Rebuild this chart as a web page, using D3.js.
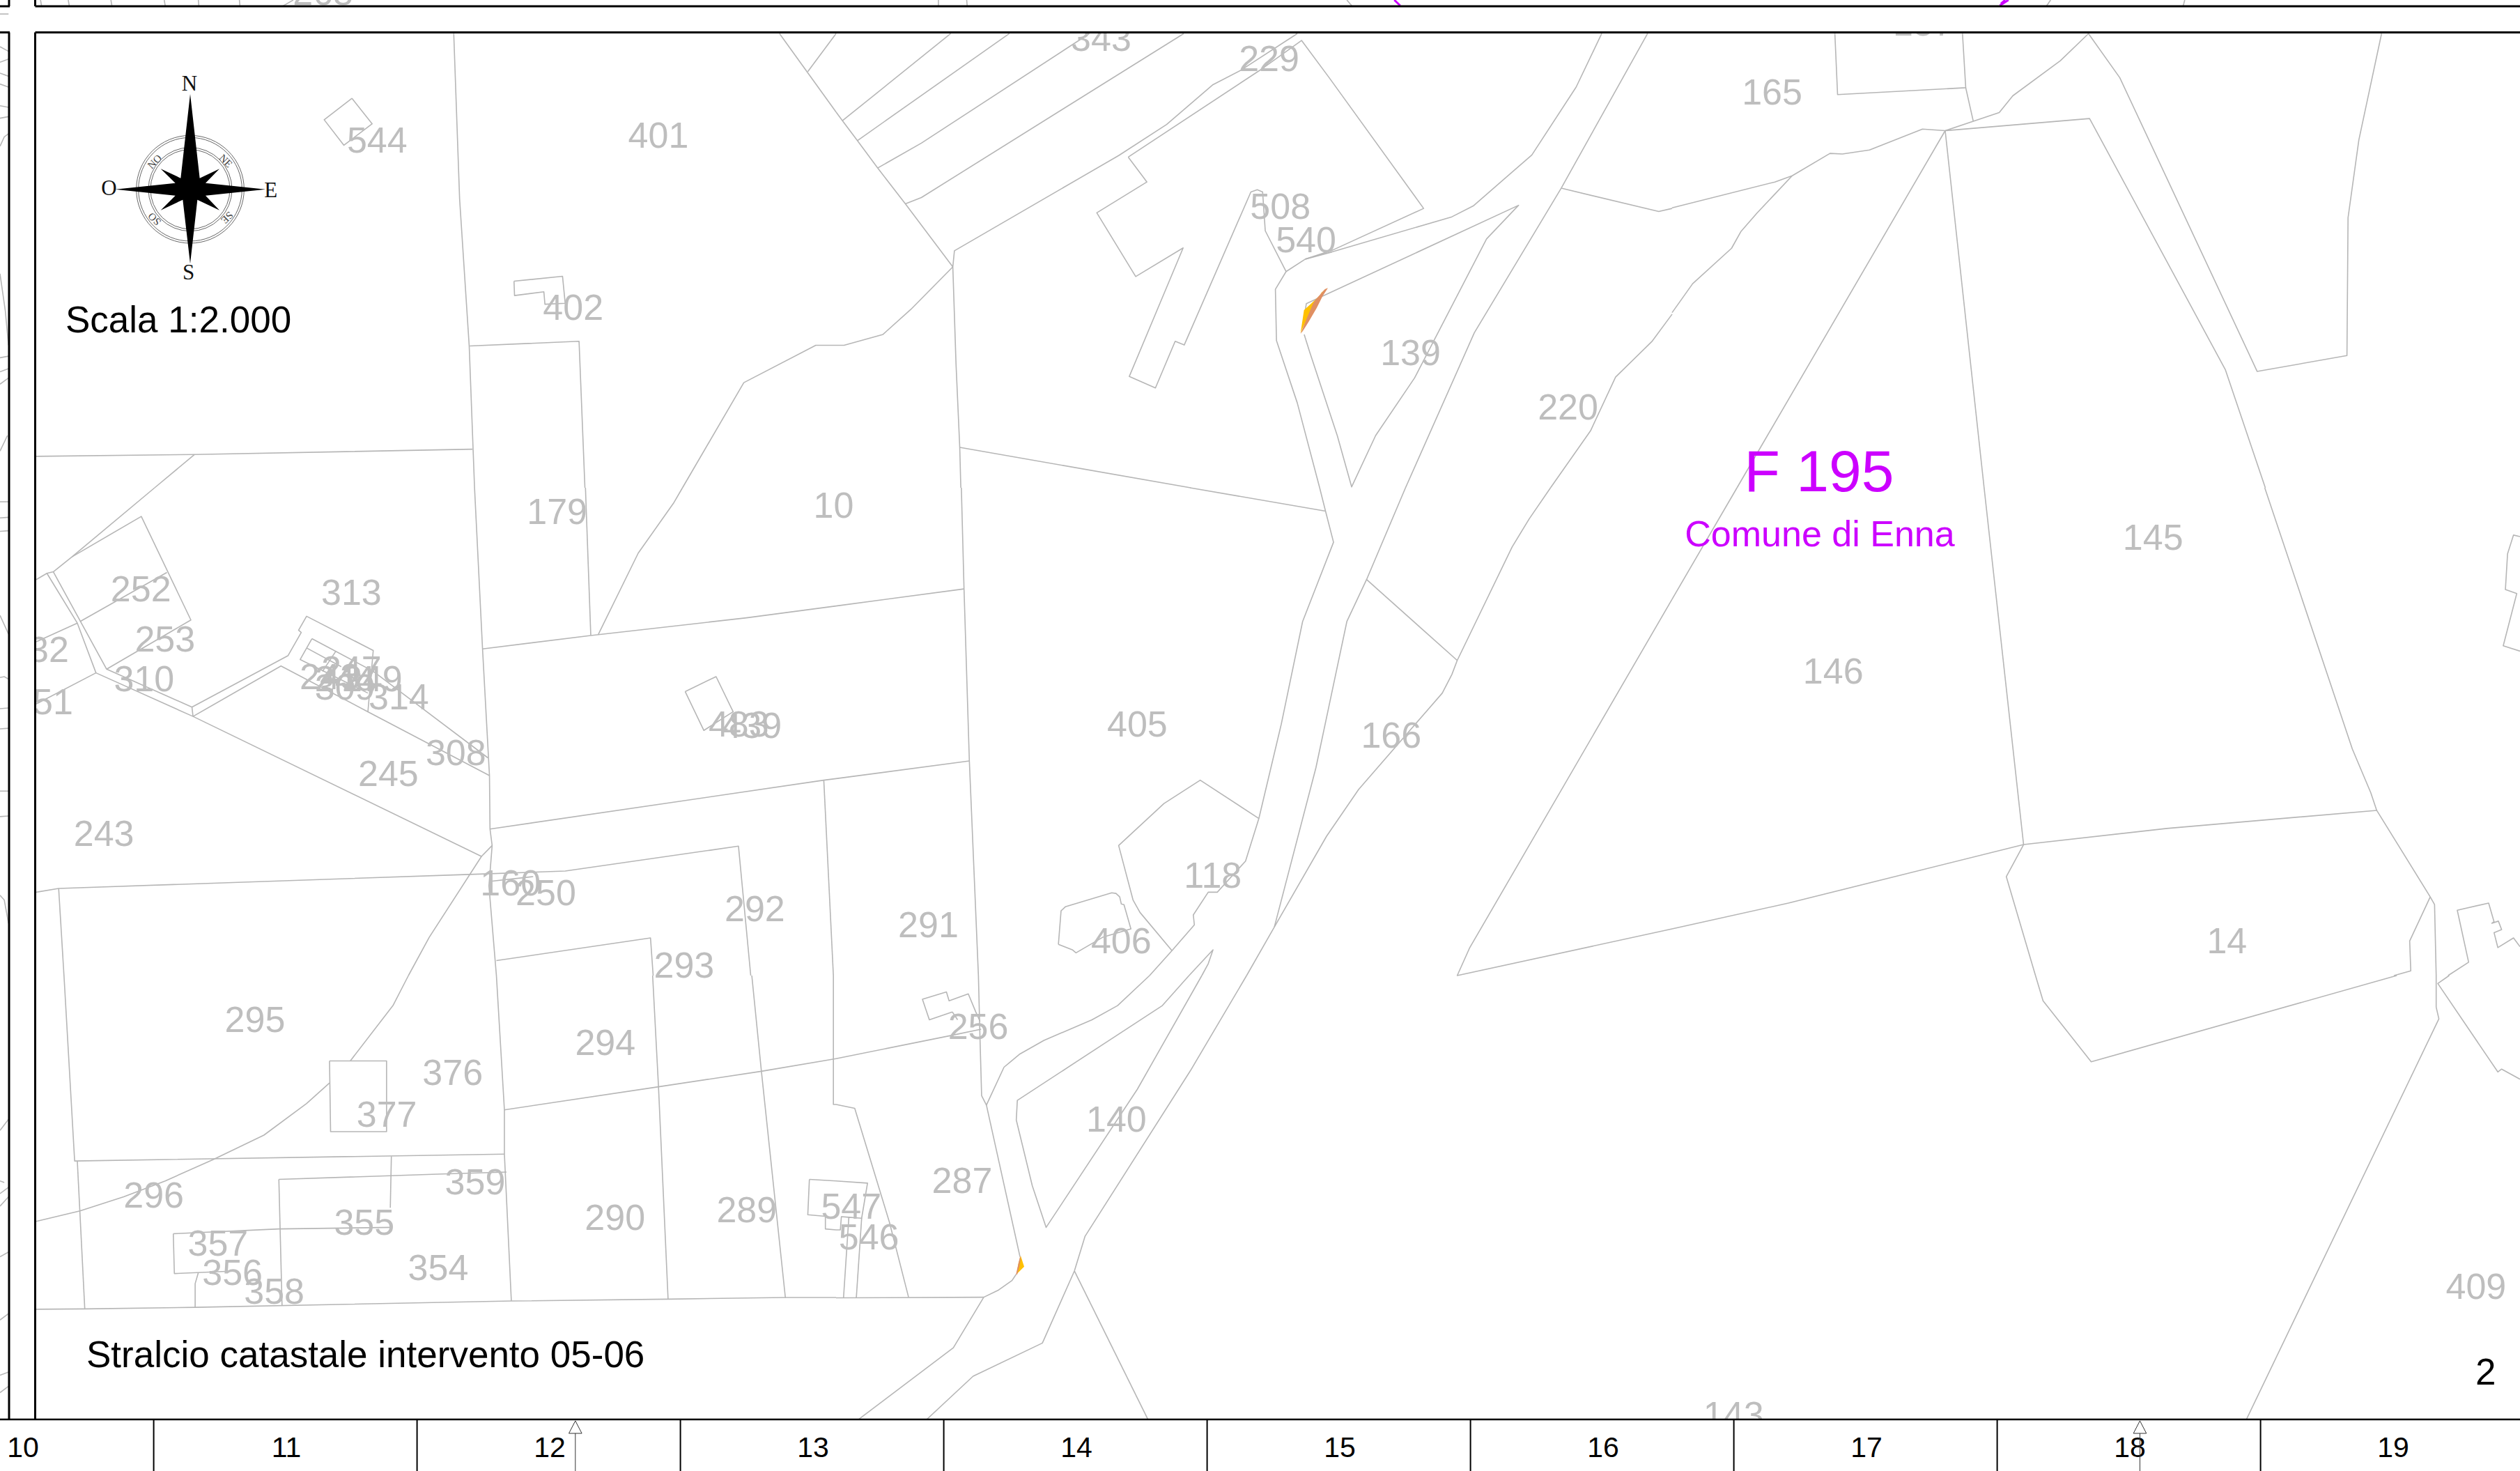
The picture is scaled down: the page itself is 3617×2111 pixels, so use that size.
<!DOCTYPE html>
<html>
<head>
<meta charset="utf-8">
<script src="https://cdn.jsdelivr.net/npm/d3@7"></script>
<style>
  html, body { margin: 0; background: #fff; }
  svg { display: block; font-family: "Liberation Sans", Arial, sans-serif; }
</style>
</head>
<body>
<svg id="map"></svg>
<script>
// boundaries read per sheet, flat x,y lists, each sheet 0..1568 both ways
const sheetA = [
  [851,108, 862,640, 880,1112, 890,1568],
  [881,1112, 1086,1097, 1097,1568],
  [68,1467, 365,1461, 886,1444],
  [365,1461, 290,1568],
  [660,316, 698,398, 645,467, 608,385, 660,316],
  [964,904, 1055,888, 1060,975, 1022,978, 1020,938, 965,950, 964,904],
  [1568,1110, 1530,1110, 1395,1230, 1280,1568],
  [1462,108, 1568,360],
  [1515,230, 1568,108]
];
const sheetB = [
  [890,0, 905,518, 918,925, 919,1097, 923,1150, 917,1280, 931,1568],
  [1098,0, 1108,474],
  [1280,0, 1263,50, 1197,210, 1122,472],
  [905,518, 1108,475, 1400,418, 1568,380],
  [919,1097, 1545,940, 1568,935],
  [290,0, 135,222, 100,270, 88,275, 145,435, 180,595, 362,735, 903,1185, 923,1150],
  [100,270, 200,583, 360,705, 362,735],
  [135,222, 265,92, 358,425, 200,583],
  [68,295, 88,275],
  [145,435, 68,495],
  [150,430, 313,272],
  [180,595, 68,695],
  [360,705, 540,540, 565,465, 560,458, 575,413, 700,523, 690,720],
  [362,735, 527,573, 690,720, 918,925],
  [585,485, 700,590, 915,868],
  [585,485, 563,552, 690,660],
  [575,515, 640,575],
  [630,525, 605,590],
  [1285,655, 1343,607, 1375,720, 1320,780, 1285,655],
  [68,1300, 110,1288, 880,1243, 1060,1232, 1385,1152, 1408,1568],
  [110,1288, 120,1568],
  [903,1185, 805,1445, 766,1568],
  [920,1265, 1000,1250],
  [931,1520, 1220,1447, 1225,1568],
  [1545,940, 1563,1568]
];
const sheetC = [
  [120,0, 140,587, 946,565],
  [766,0, 737,95, 657,270],
  [618,270, 725,270, 725,494, 620,494, 618,270],
  [618,340, 575,405, 495,505, 400,582, 310,650, 232,700, 150,745, 68,778],
  [931,0, 946,425, 946,565, 959,1030],
  [946,425, 1235,352, 1428,303, 1568,263],
  [1224,0, 1235,352, 1253,1025],
  [1410,0, 1428,303, 1473,1020],
  [145,587, 159,1055],
  [68,1056, 159,1055, 366,1050, 959,1030, 1253,1024, 1473,1019, 1568,1019],
  [734,572, 732,735],
  [523,645, 830,628, 950,622],
  [523,645, 529,1045],
  [325,817, 523,802, 735,797],
  [325,817, 327,943, 440,935],
  [366,1050, 366,975, 372,940],
  [1563,0, 1563,408, 1568,408],
  [1518,645, 1568,650],
  [1518,645, 1515,757, 1548,762, 1548,802, 1568,805]
];
const sheetD = [
  [0,360, 12,388, 40,452, 78,540, 130,655, 219,858],
  [12,388, 215,108],
  [40,452, 325,108],
  [78,540, 160,460, 475,108],
  [130,655, 160,635, 652,108],
  [219,858, 222,806, 530,500, 620,400, 707,272, 760,225, 865,108],
  [548,505, 800,220, 873,130, 925,250, 1102,670, 930,805, 880,833],
  [548,505, 583,585, 489,684, 562,889, 651,797, 550,1210, 599,1247, 636,1097, 653,1109, 778,617, 790,610, 800,617, 805,742, 844,873, 880,833, 930,810, 1155,697, 1195,662, 1305,498, 1388,280, 1436,108],
  [844,873, 824,930, 826,1095, 865,1295, 907,1568],
  [878,1075, 888,1130, 940,1400, 967,1565, 1012,1400, 1085,1215, 1220,768, 1280,660, 882,976, 878,1020],
  [1522,108, 1360,605, 1197,1070, 1068,1568],
  [1360,605, 1543,680, 1568,670],
  [1568,1010, 1530,1098, 1462,1212, 1415,1385, 1340,1568],
  [219,858, 140,995, 88,1075, 15,1110, 0,1110],
  [219,858, 225,1170, 232,1438, 234,1568],
  [232,1438, 665,1568]
];
const sheetE = [
  [664,0, 918,75],
  [907,0, 918,75, 933,175, 875,430, 835,760, 793,1063, 768,1200, 715,1300, 698,1300, 670,1373, 672,1405, 630,1488, 588,1568],
  [1068,0, 995,295, 958,430, 900,900, 822,1412],
  [1340,0, 1300,100, 1268,190, 1165,555, 1155,600, 1137,660, 980,970, 920,1120, 822,1412, 770,1568],
  [995,295, 1165,555],
  [1568,358, 1188,1480, 1165,1568, 1568,1418],
  [235,0, 240,325, 250,878, 267,1568],
  [0,380, 240,325],
  [0,935, 250,878],
  [793,1063, 683,940, 615,1015, 530,1150, 557,1325, 570,1365, 630,1488],
  [417,1468, 422,1360, 430,1347, 517,1302, 525,1304, 532,1315, 535,1338, 540,1340, 553,1418, 500,1445, 450,1495, 443,1485, 417,1468],
  [686,1568, 698,1530, 707,1485, 662,1568]
];
const sheetF = [
  [588,0, 528,95, 480,140, 390,205, 345,248, 315,290, 282,410, 273,380, 270,200, 267,0],
  [282,410, 345,890],
  [662,0, 612,95, 340,395, 338,457, 368,665, 394,797, 565,360, 686,0],
  [770,0, 665,300, 467,825, 447,935, 387,1163, 257,1268, 170,1405],
  [447,935, 585,1405],
  [338,945, 330,965, 305,995, 277,1018, 220,1178, 42,1405],
  [0,1020, 277,1018],
  [0,408, 35,420, 100,780, 136,1018],
  [218,115, 175,140, 162,75, 207,52, 212,80, 248,58, 262,115, 270,145],
  [218,115, 228,140],
  [0,263, 215,190, 272,170],
  [0,650, 59,657, 48,768, 24,765, 14,1020],
  [48,768, 38,1020],
  [24,765, 10,763, 8,805, 0,805]
];
const sheetG = [
  [0,668, 190,585, 222,565, 292,493, 315,495, 365,482, 463,415, 505,420, 605,362, 630,308, 718,195, 770,108, 828,250, 1082,1194, 1248,1143, 1250,700, 1270,450, 1312,108],
  [222,565, 157,685, 127,745, 110,798, 38,912, 0,1005],
  [505,420, 120,1568],
  [505,420, 772,381, 1023,1188, 1097,1568],
  [505,420, 577,1568],
  [301,108, 306,304, 543,282, 537,108],
  [543,282, 557,390]
];
const sheetH = [
  [120,0, 0,358],
  [577,0, 650,1147],
  [1096,0, 1258,840, 1292,980, 1303,1037, 1402,1315, 1410,1340, 1413,1568],
  [0,1418, 215,1335, 650,1147, 915,1095, 1303,1037],
  [650,1147, 618,1250, 672,1568],
  [1402,1315, 1364,1457, 1366,1553, 1335,1568],
  [1568,525, 1537,508, 1562,340, 1541,327, 1545,212, 1556,152, 1568,157],
  [1435,1568, 1473,1525, 1452,1358, 1510,1335, 1520,1395, 1516,1400, 1528,1393, 1534,1420, 1520,1430, 1527,1478, 1556,1447, 1568,1475]
];
const sheetI = [
  [672,0, 686,80, 775,273, 1340,0],
  [1413,0, 1413,100, 1418,137, 1062,1405],
  [1437,0, 1416,25, 1527,305, 1534,296, 1568,328]
];

// bits of the neighbouring sheets that show at the edges (same sheet units)
const stubsA = [
  [0,45, 16,45],[0,150, 16,165],[0,200, 16,190],[0,235, 16,245],[0,270, 16,280],[0,340, 16,345],[0,380, 16,375],
  [0,470, 8,440, 16,430],[0,880, 10,1000, 16,1110],[0,1150, 16,1145],[0,1195, 16,1185],[0,1235, 16,1215],[0,1450, 14,1400],
  [78,20, 76,0],[130,20, 128,0],[210,20, 208,0],[310,20, 308,0],[373,20, 372,0],[450,20, 449,0],[530,20, 550,0]
];
const stubsB = [
  [0,45, 16,45],[0,97, 16,95],[0,140, 16,138],[0,410, 16,470],[0,610, 8,607, 16,615],[0,710, 16,708],[0,775, 16,773],
  [0,975, 16,975],[0,1057, 16,1055],[0,1310, 8,1325, 16,1400]
];
const stubsC = [
  [16,455, 0,490],[0,650, 8,655],[0,690, 16,670],[0,730, 16,700],[0,890, 16,875],[0,1090, 16,1070],[0,1265, 16,1255],[0,1320, 16,1300]
];
const stubsD = [[192,0, 192,20],[245,0, 246,20],[958,0, 968,20]];
const stubsG = [[700,0, 692,20],[948,0, 945,20]];
const purpleStubs = [[1047,0, 1058,18]];
const purpleStubsG = [[622,0, 606,18],[616,0, 608,12]];

// parcel numbers, [number, x, y] on the shrunk sheet
const parcels = [
  ["229",789,36],["343",684.5,23.4],["165",1102,57],["157",1196,14],["544",234,87],["401",409,84],["402",356,191],
  ["508",796,128],["540",812,149],["139",877,219],["220",975,253],["179",346,318],["10",518,314],["252",87,366],
  ["313",218,368],["253",102,397],["232",23.4,403.6],["310",89,422],["251",26,436],["247",218,416],["243",204.6,420.6],
  ["244",214,422],["309",214,427],["249",231,422],["314",247.5,433],["405",707,450],["483",459,450],["439",467,451],
  ["166",865,457],["308",283,468],["245",241,481],["243",64,518],["118",754,544],["160",317,549],["250",339,555],
  ["292",469,565],["291",577,575],["406",697,585],["14",1385,585],["293",425,600],["295",158,634],["256",608,638],
  ["294",376,648],["376",281,667],["377",240,693],["140",694,696],["359",295,735],["287",598,734],["296",95,743],
  ["547",529,750],["289",464,752],["290",382,757],["355",226,760],["546",540,769],["357",135,773],["354",272,788],
  ["356",144,791],["409",1540,800],["358",170,803],["143",1078,879.6],["145",1339,334],["146",1140,417]
];
const upperParcels = [["268",201,-5]];

const rulerColumns = ["10","11","12","13","14","15","16","17","18","19"];
const rulerArrows = [358, 1331.5];

const starOutline = [
  [519,165],[560,527],[645,487],[585,548],[843,575],[585,602],[645,665],[550,620],
  [519,895],[487,620],[392,665],[455,602],[197,575],[455,548],[392,487],[478,527]
];
const ringRadii = [232, 223, 180, 171];
const compassMain = [["N",516,118],["O",169,570],["E",866,578],["S",512,933]];
const compassSmall = [["NO",366,456,-45],["NE",672,453,45],["SE",678,697,135],["SO",365,703,-135]];

const sliverNorthYellow = [[140,295],[155,195],[210,145],[255,100],[230,120],[190,190],[150,270]];
const sliverNorthSalmon = [[140,297],[165,235],[195,165],[205,150],[245,105],[258,100],[235,135],[210,185],[175,245],[150,285]];
const sliverSouthYellow = [[135,97],[150,143],[118,175],[125,130]];
const sliverSouthSalmon = [[133,97],[115,175],[120,178],[130,140],[135,110]];

const WIDTH = 3617, HEIGHT = 2111;
const FRAME_LEFT = 50.5, FRAME_TOP = 46.5, FRAME_BOTTOM = 2037;
const GREY = "#bebebe", LINE_GREY = "#b6b6b6", PURPLE = "#cc00ff";

const svg = d3.select("#map").attr("width", WIDTH).attr("height", HEIGHT).attr("viewBox", `0 0 ${WIDTH} ${HEIGHT}`);

const defs = svg.append("defs");
defs.append("clipPath").attr("id", "mainClip").append("rect")
  .attr("x", FRAME_LEFT).attr("y", FRAME_TOP).attr("width", WIDTH - FRAME_LEFT).attr("height", FRAME_BOTTOM - FRAME_TOP);
defs.append("clipPath").attr("id", "upperClip").append("rect")
  .attr("x", FRAME_LEFT).attr("y", 0).attr("width", WIDTH - FRAME_LEFT).attr("height", 9);

const shrunkX = d3.scaleLinear().domain([0, 1568]).range([0, WIDTH]);
const shrunkY = d3.scaleLinear().domain([0, 915]).range([0, HEIGHT]);

function sheetLine(x0, y0, w, h) {
  const x = d3.scaleLinear().domain([0, 1568]).range([x0, x0 + w]);
  const y = d3.scaleLinear().domain([0, 1568]).range([y0, y0 + h]);
  return d3.line().x(d => x(d[0])).y(d => y(d[1]));
}

function toPairs(flat) {
  return d3.range(0, flat.length, 2).map(i => [flat[i], flat[i + 1]]);
}

const sheets = [
  {lines: sheetA, stubs: stubsA, x: 0, y: 0, w: 1200, h: 700},
  {lines: sheetB, stubs: stubsB, x: 0, y: 700, w: 1200, h: 700},
  {lines: sheetC, stubs: stubsC, x: 0, y: 1400, w: 1200, h: 711},
  {lines: sheetD, stubs: stubsD, x: 1200, y: 0, w: 1200, h: 700},
  {lines: sheetE, stubs: [], x: 1200, y: 700, w: 1200, h: 700},
  {lines: sheetF, stubs: [], x: 1200, y: 1400, w: 1200, h: 711},
  {lines: sheetG, stubs: stubsG, x: 2400, y: 0, w: 1217, h: 700},
  {lines: sheetH, stubs: [], x: 2400, y: 700, w: 1217, h: 700},
  {lines: sheetI, stubs: [], x: 2400, y: 1400, w: 1217, h: 711}
];

// neighbours first, they sit under the frame
const stubLayer = svg.append("g").attr("fill", "none").attr("stroke", LINE_GREY).attr("stroke-width", 1.6);
sheets.forEach(s => {
  const line = sheetLine(s.x, s.y, s.w, s.h);
  stubLayer.selectAll(null).data(s.stubs).enter().append("path").attr("d", d => line(toPairs(d)));
});
stubLayer.selectAll(null).data(purpleStubs).enter().append("path")
  .attr("stroke", PURPLE).attr("stroke-width", 3).attr("d", d => sheetLine(1200, 0, 1200, 700)(toPairs(d)));
stubLayer.selectAll(null).data(purpleStubsG).enter().append("path")
  .attr("stroke", PURPLE).attr("stroke-width", 3).attr("d", d => sheetLine(2400, 0, 1217, 700)(toPairs(d)));

svg.append("g").attr("clip-path", "url(#upperClip)")
  .selectAll("text").data(upperParcels).enter().append("text")
  .attr("x", d => shrunkX(d[1])).attr("y", d => shrunkY(d[2])).attr("dy", ".358em")
  .attr("text-anchor", "middle").attr("font-size", 52).attr("fill", GREY).text(d => d[0]);

const main = svg.append("g").attr("clip-path", "url(#mainClip)");

const parcelLines = main.append("g").attr("fill", "none").attr("stroke", LINE_GREY).attr("stroke-width", 1.6).attr("stroke-linejoin", "round");
sheets.forEach(s => {
  const line = sheetLine(s.x, s.y, s.w, s.h);
  parcelLines.selectAll(null).data(s.lines).enter().append("path").attr("d", d => line(toPairs(d)));
});

function drawSliver(points, x0, y0, w, h, fill) {
  const x = d3.scaleLinear().domain([0, w * 3]).range([x0, x0 + w]);
  const y = d3.scaleLinear().domain([0, h * 3]).range([y0, y0 + h]);
  main.append("path")
    .attr("d", d3.line().x(d => x(d[0])).y(d => y(d[1])).curve(d3.curveLinearClosed)(points))
    .attr("fill", fill);
}
drawSliver(sliverNorthYellow, 1820, 380, 140, 120, "#ffc000");
drawSliver(sliverNorthSalmon, 1820, 380, 140, 120, "#e08f62");
drawSliver(sliverSouthYellow, 1420, 1770, 100, 90, "#ffc000");
drawSliver(sliverSouthSalmon, 1420, 1770, 100, 90, "#e08f62");

main.append("g").attr("font-size", 52).attr("fill", GREY).attr("text-anchor", "middle")
  .selectAll("text").data(parcels).enter().append("text")
  .attr("x", d => shrunkX(d[1]) + 1.5).attr("y", d => shrunkY(d[2])).attr("dy", ".358em")
  .text(d => d[0]);

// compass rose
const cx = d3.scaleLinear().domain([0, 1020]).range([100, 440]);
const cy = d3.scaleLinear().domain([0, 1020]).range([80, 420]);
const rose = svg.append("g");
rose.selectAll("circle").data(ringRadii).enter().append("circle")
  .attr("cx", cx(519)).attr("cy", cy(575)).attr("r", d => d / 3)
  .attr("fill", "none").attr("stroke", "#555").attr("stroke-width", 0.9);
rose.append("path")
  .attr("d", d3.line().x(d => cx(d[0])).y(d => cy(d[1])).curve(d3.curveLinearClosed)(starOutline))
  .attr("fill", "#000");
rose.selectAll(".main").data(compassMain).enter().append("text").attr("class", "main")
  .attr("x", d => cx(d[1])).attr("y", d => cy(d[2])).attr("dy", ".33em")
  .attr("text-anchor", "middle").attr("font-family", "Liberation Serif").attr("font-size", 31).attr("fill", "#111")
  .text(d => d[0]);
rose.selectAll(".small").data(compassSmall).enter().append("text").attr("class", "small")
  .attr("transform", d => `translate(${cx(d[1])},${cy(d[2])}) rotate(${d[3]})`).attr("dy", ".33em")
  .attr("text-anchor", "middle").attr("font-family", "Liberation Serif").attr("font-size", 15).attr("fill", "#444")
  .text(d => d[0]);

// captions
const captions = svg.append("g").attr("font-size", 53).attr("fill", "#000");
captions.append("text").attr("x", 94).attr("y", 477).text("Scala 1:2.000");
captions.append("text").attr("x", 124).attr("y", 1962).text("Stralcio catastale intervento 05-06");
captions.append("text").attr("x", 3553).attr("y", 1987).text("2");

const sheetName = svg.append("g").attr("fill", PURPLE).attr("text-anchor", "middle");
sheetName.append("text").attr("x", 2611).attr("y", 705).attr("font-size", 84).text("F 195");
sheetName.append("text").attr("x", 2612).attr("y", 784).attr("font-size", 52).text("Comune di Enna");

// frame
const frame = svg.append("g").attr("stroke", "#000").attr("fill", "none");
const frameLines = [
  [[FRAME_LEFT, FRAME_TOP], [WIDTH, FRAME_TOP]],
  [[FRAME_LEFT, FRAME_TOP], [FRAME_LEFT, FRAME_BOTTOM]],
  [[FRAME_LEFT, 9], [WIDTH, 9]],
  [[FRAME_LEFT, 0], [FRAME_LEFT, 9]],
  [[0, 9], [14, 9]],
  [[13, 0], [13, 9]],
  [[0, FRAME_TOP], [14, FRAME_TOP]],
  [[13, FRAME_TOP], [13, FRAME_BOTTOM]]
];
frame.selectAll("path").data(frameLines).enter().append("path")
  .attr("d", d3.line()).attr("stroke-width", 3);

// column ruler along the bottom edge
const col = d3.scaleBand().domain(rulerColumns).range([220.6 - 378, 220.6 + 378 * 9]);
const ruler = svg.append("g").attr("transform", `translate(0,${FRAME_BOTTOM})`);
ruler.append("g")
  .call(d3.axisBottom(col).tickSize(0).tickPadding(25))
  .call(g => g.select(".domain").remove())
  .call(g => g.selectAll("text").attr("font-size", 41).attr("font-family", "Liberation Sans").attr("fill", "#000").attr("dx", 1.5));
ruler.append("line").attr("x1", 0).attr("x2", WIDTH).attr("stroke", "#000").attr("stroke-width", 2.5);
ruler.selectAll(".sep").data(rulerColumns.slice(1)).enter().append("line").attr("class", "sep")
  .attr("x1", d => col(d)).attr("x2", d => col(d))
  .attr("y1", 0).attr("y2", HEIGHT - FRAME_BOTTOM).attr("stroke", "#000").attr("stroke-width", 2);

const arrow = ruler.selectAll(".arrow").data(rulerArrows).enter().append("g").attr("class", "arrow")
  .attr("transform", d => `translate(${shrunkX(d)},0)`);
arrow.append("path").attr("d", "M0,2L9.3,20L-9.3,20Z").attr("fill", "#fff").attr("stroke", "#333").attr("stroke-width", 1);
arrow.append("line").attr("y1", 20).attr("y2", HEIGHT - FRAME_BOTTOM).attr("stroke", "#333").attr("stroke-width", 1);
</script>
</body>
</html>
